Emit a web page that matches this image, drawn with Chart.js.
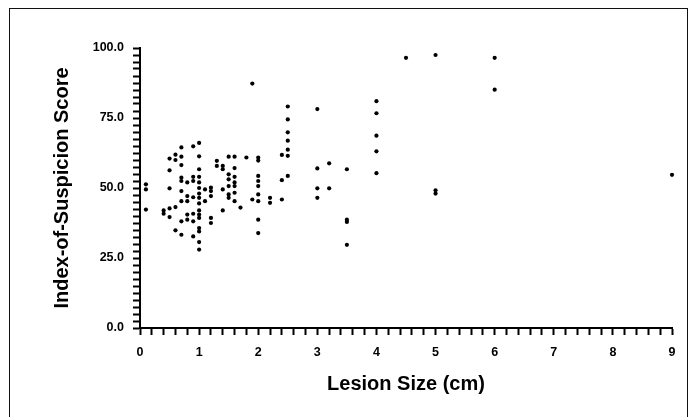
<!DOCTYPE html>
<html><head><meta charset="utf-8">
<script src="https://cdn.jsdelivr.net/npm/chart.js@4/dist/chart.umd.min.js"></script>
<style>
html,body{margin:0;padding:0;background:#fff}
#wrap{position:relative;width:690px;height:417px;overflow:hidden}
#frame{position:absolute;left:9px;top:8px;width:679px;height:430px;border:1.5px solid #111;border-bottom:none;box-sizing:border-box;pointer-events:none}
</style></head>
<body>
<div id="wrap"><canvas id="c" width="690" height="417"></canvas><div id="frame"></div></div>
<script>
// Lesion size (cm) and index-of-suspicion score
const lesionSize = [
  0.1,0.1,0.1,
  0.4,0.4,
  0.5,0.5,0.5,0.5,0.5,
  0.6,0.6,0.6,0.6,
  0.7,0.7,0.7,0.7,0.7,0.7,0.7,0.7,0.7,
  0.8,0.8,0.8,0.8,0.8,
  0.9,0.9,0.9,0.9,0.9,0.9,0.9,
  1.0,1.0,1.0,1.0,1.0,1.0,1.0,1.0,1.0,1.0,1.0,1.0,1.0,1.0,1.0,1.0,
  1.1,1.1,
  1.2,1.2,1.2,1.2,1.2,
  1.3,1.3,
  1.4,1.4,1.4,1.4,
  1.5,1.5,1.5,1.5,1.5,1.5,
  1.6,1.6,1.6,1.6,1.6,1.6,1.6,
  1.7,
  1.8,
  1.9,1.9,
  2.0,2.0,2.0,2.0,2.0,2.0,2.0,2.0,2.0,
  2.2,2.2,
  2.4,2.4,2.4,
  2.5,2.5,2.5,2.5,2.5,2.5,2.5,
  3.0,3.0,3.0,3.0,
  3.2,3.2,
  3.5,3.5,3.5,3.5,
  4.0,4.0,4.0,4.0,4.0,
  4.5,
  5.0,5.0,5.0,
  6.0,6.0,
  9.0
];
const suspicionScore = [
  51.3,49.5,42.3,
  42.0,40.8,
  60.5,56.3,49.9,42.7,39.6,
  61.9,60.0,43.2,34.9,
  64.5,61.2,58.2,53.7,52.5,48.9,45.3,38.1,33.3,
  52.0,47.1,45.3,40.5,38.7,
  64.9,54.0,52.5,46.7,40.8,38.1,32.7,
  66.1,61.3,56.7,54.0,52.0,50.0,48.0,46.5,44.5,42.0,40.5,39.3,35.7,34.5,30.7,28.0,
  49.5,45.3,
  50.1,48.9,47.1,39.3,37.5,
  59.7,57.9,
  57.9,56.7,49.5,42.0,
  61.2,54.9,53.1,50.7,47.7,46.5,
  61.2,57.1,54.0,52.0,50.7,48.3,45.3,
  43.0,
  60.9,
  87.3,45.9,
  60.9,59.8,54.3,52.5,50.7,47.7,45.3,38.7,33.9,
  46.5,44.7,
  61.8,52.8,45.9,
  79.1,74.5,69.9,66.9,63.7,61.5,54.3,
  78.2,57.0,49.9,46.5,
  58.8,49.9,
  56.7,38.7,37.9,29.7,
  81.0,76.7,68.7,63.1,55.3,
  96.5,
  97.5,49.2,48.0,
  96.5,85.1,
  54.7
];
const xTickLabels = ['0','1','2','3','4','5','6','7','8','9'];
const yTickLabels = ['0.0','25.0','50.0','75.0','100.0'];
const xMinorPerMajor = 5;   // minor tick every 0.2 cm
const yMinorPerMajor = 10;  // minor tick every 2.5
const yMajorStep = 25;

const points = lesionSize.map((x, i) => ({x: x, y: suspicionScore[i]}));

const tickFont = {family: "'Liberation Sans Narrow', 'Liberation Sans'", weight: 'bold', size: 12.5};
const titleFont = {family: "'Liberation Sans', Arial", weight: 'bold', size: 20};

new Chart(document.getElementById('c'), {
  type: 'scatter',
  data: {datasets: [{
    data: points,
    backgroundColor: '#000',
    borderColor: '#000',
    borderWidth: 0,
    pointRadius: 2.1,
    pointHoverRadius: 2.1,
    pointStyle: 'circle'
  }]},
  options: {
    responsive: false,
    animation: false,
    events: [],
    clip: false,
    layout: {padding: {left: 46, top: 48, right: 18, bottom: 17}},
    plugins: {legend: {display: false}, tooltip: {enabled: false}},
    scales: {
      x: {
        type: 'linear',
        min: 0, max: xTickLabels.length - 1,
        afterFit: s => { s.height = 72; },
        afterBuildTicks: s => {
          const t = [];
          const n = (xTickLabels.length - 1) * xMinorPerMajor;
          for (let k = 0; k <= n; k++) t.push({value: k / xMinorPerMajor});
          s.ticks = t;
        },
        border: {display: true, color: '#000', width: 2},
        grid: {display: true, drawOnChartArea: false, drawTicks: true, tickLength: 7, tickWidth: 2, tickColor: '#000'},
        ticks: {
          autoSkip: false, maxRotation: 0, color: '#000', font: tickFont, padding: 10,
          callback: v => {
            const r = Math.round(v);
            return Math.abs(v - r) < 1e-6 ? xTickLabels[r] : '';
          }
        },
        title: {display: true, text: 'Lesion Size (cm)', color: '#000', font: titleFont, padding: {top: 4, bottom: 4}}
      },
      y: {
        type: 'linear',
        min: 0, max: (yTickLabels.length - 1) * yMajorStep,
        afterFit: s => { s.width = 94; },
        afterBuildTicks: s => {
          const t = [];
          const n = (yTickLabels.length - 1) * yMinorPerMajor;
          for (let k = 0; k <= n; k++) t.push({value: k * yMajorStep / yMinorPerMajor});
          s.ticks = t;
        },
        border: {display: true, color: '#000', width: 2},
        grid: {display: true, drawOnChartArea: false, drawTicks: true, tickLength: 7, tickWidth: 2, tickColor: '#000'},
        ticks: {
          autoSkip: false, color: '#000', font: tickFont, padding: 9,
          callback: v => {
            const q = v / yMajorStep;
            const r = Math.round(q);
            return Math.abs(q - r) < 1e-6 ? yTickLabels[r] : '';
          }
        },
        title: {display: true, text: 'Index-of-Suspicion Score', color: '#000', font: titleFont, padding: {top: 4, bottom: 4}}
      }
    }
  }
});
</script>
</body></html>
